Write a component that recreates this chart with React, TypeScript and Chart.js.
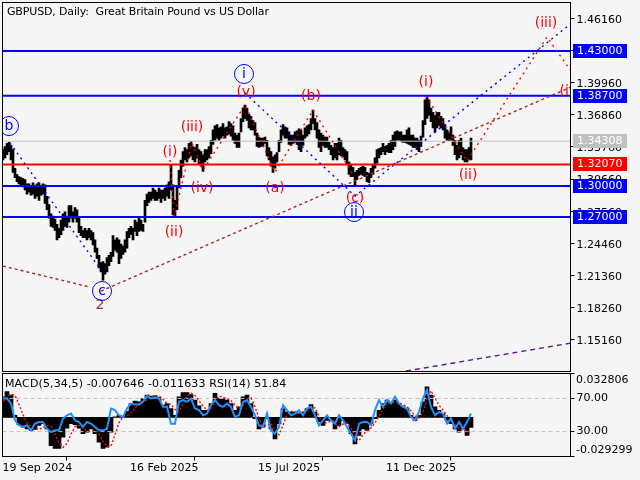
// GBPUSD daily chart with MACD / RSI pane. Two stacked charts sharing one bar axis.
import { useEffect, useRef } from "react";
import { Chart, registerables } from "chart.js";

Chart.register(...registerables);

const FONT = "'DejaVu Sans'";
const BG = "#F5F5F5";

// one entry every 2 daily bars
const highs = [
  1.335,1.338,1.341,1.342,1.339,1.335,1.317,1.311,1.309,1.308,1.307,1.306,1.302,1.302,1.300,1.303,1.300,1.302,1.303,1.300,
  1.302,1.301,1.290,1.282,1.273,1.271,1.268,1.263,1.259,1.267,1.273,1.275,1.271,1.281,1.281,1.275,1.279,1.277,1.269,1.261,
  1.257,1.259,1.257,1.259,1.257,1.255,1.248,1.240,1.233,1.226,1.227,1.225,1.231,1.233,1.236,1.252,1.248,1.250,1.248,1.244,
  1.242,1.248,1.256,1.259,1.261,1.259,1.267,1.265,1.269,1.267,1.263,1.286,1.292,1.294,1.294,1.298,1.296,1.294,1.298,1.296,
  1.296,1.298,1.301,1.304,1.320,1.301,1.286,1.300,1.315,1.325,1.333,1.337,1.335,1.341,1.343,1.338,1.337,1.340,1.335,1.333,
  1.330,1.335,1.335,1.338,1.344,1.354,1.358,1.359,1.356,1.357,1.360,1.356,1.357,1.362,1.360,1.358,1.351,1.349,1.351,1.365,
  1.375,1.378,1.375,1.369,1.367,1.363,1.361,1.351,1.347,1.346,1.346,1.347,1.344,1.337,1.333,1.328,1.330,1.332,1.344,1.354,
  1.359,1.357,1.356,1.352,1.349,1.349,1.352,1.353,1.355,1.354,1.349,1.356,1.358,1.359,1.365,1.373,1.365,1.361,1.354,1.351,
  1.349,1.347,1.347,1.342,1.339,1.337,1.341,1.341,1.346,1.344,1.337,1.335,1.333,1.323,1.320,1.318,1.313,1.315,1.317,1.318,
  1.319,1.318,1.313,1.312,1.317,1.320,1.327,1.335,1.336,1.337,1.341,1.338,1.339,1.341,1.344,1.349,1.352,1.353,1.352,1.352,
  1.349,1.349,1.354,1.356,1.349,1.349,1.346,1.346,1.344,1.348,1.363,1.383,1.387,1.383,1.375,1.371,1.368,1.371,1.371,1.367,
  1.365,1.359,1.354,1.352,1.357,1.349,1.344,1.339,1.344,1.346,1.337,1.335,1.335,1.337,1.346,
];
const lows = [
  1.325,1.327,1.330,1.333,1.325,1.313,1.308,1.304,1.302,1.301,1.299,1.296,1.292,1.294,1.291,1.292,1.288,1.290,1.286,1.291,
  1.292,1.283,1.277,1.269,1.261,1.260,1.257,1.248,1.250,1.253,1.257,1.261,1.260,1.265,1.269,1.265,1.269,1.265,1.255,1.252,
  1.250,1.250,1.248,1.250,1.248,1.243,1.236,1.230,1.221,1.217,1.209,1.215,1.217,1.223,1.227,1.232,1.238,1.236,1.225,1.230,
  1.234,1.236,1.240,1.250,1.253,1.248,1.256,1.252,1.256,1.257,1.256,1.265,1.281,1.284,1.286,1.288,1.286,1.286,1.288,1.284,
  1.288,1.286,1.290,1.288,1.296,1.272,1.271,1.277,1.298,1.308,1.319,1.325,1.323,1.327,1.329,1.325,1.323,1.327,1.321,1.319,
  1.314,1.323,1.325,1.327,1.331,1.340,1.344,1.346,1.344,1.346,1.348,1.346,1.349,1.350,1.348,1.344,1.341,1.337,1.337,1.352,
  1.362,1.365,1.363,1.356,1.354,1.354,1.349,1.338,1.337,1.338,1.338,1.341,1.329,1.325,1.319,1.313,1.317,1.323,1.333,1.342,
  1.349,1.346,1.346,1.340,1.339,1.341,1.342,1.340,1.335,1.333,1.339,1.346,1.348,1.350,1.354,1.360,1.354,1.346,1.337,1.333,
  1.339,1.337,1.337,1.335,1.330,1.325,1.327,1.325,1.330,1.329,1.328,1.325,1.321,1.311,1.309,1.309,1.301,1.306,1.310,1.311,
  1.310,1.309,1.304,1.303,1.308,1.311,1.317,1.322,1.327,1.330,1.333,1.330,1.333,1.332,1.332,1.335,1.338,1.344,1.344,1.343,
  1.342,1.342,1.341,1.340,1.339,1.337,1.337,1.335,1.333,1.338,1.347,1.359,1.365,1.368,1.362,1.356,1.352,1.356,1.358,1.356,
  1.354,1.346,1.344,1.344,1.344,1.339,1.330,1.325,1.327,1.330,1.325,1.323,1.323,1.325,1.325,
];

// one entry every 4 daily bars
const macd = [
  .0154,.0192,.0166,.0015,-.0055,-.0073,-.0086,-.0098,-.0091,-.0060,-.0048,-.0086,-.0212,-.0232,-.0232,-.0149,-.0081,-.0048,
  -.0055,-.0081,-.0123,-.0111,-.0086,-.0123,-.0186,-.0232,-.0224,-.0111,.0003,.0015,.0003,.0045,.0103,.0121,.0116,.0141,.0166,
  .0159,.0161,.0149,.0091,.0103,.0066,.0015,.0154,.0186,.0186,.0171,.0129,.0086,.0053,.0053,.0103,
  .0179,.0141,.0141,.0129,.0103,.0053,.0078,.0154,.0166,.0103,-.0010,-.0086,-.0073,-.0010,-.0086,-.0161,-.0048,.0066,.0040,
  .0040,.0040,.0028,.0040,.0066,.0096,.0040,-.0035,-.0060,-.0023,-.0023,-.0086,-.0060,-.0023,-.0048,-.0123,-.0199,-.0136,
  -.0086,-.0098,-.0048,-.0010,.0053,.0103,.0129,.0103,.0129,.0103,.0078,.0066,.0015,-.0023,.0015,.0116,.0229,
  .0166,.0078,.0053,.0028,-.0023,-.0048,-.0086,-.0111,-.0086,-.0136,-.0076,
];
const signal = [
  .0120,.0150,.0175,.0165,.0095,.0020,-.0040,-.0070,-.0085,-.0090,-.0075,-.0060,-.0070,-.0130,-.0190,-.0225,-.0195,-.0125,
  -.0070,-.0060,-.0080,-.0105,-.0100,-.0095,-.0125,-.0180,-.0220,-.0215,-.0130,-.0040,.0005,.0010,.0030,.0070,.0105,.0120,.0130,
  .0155,.0160,.0160,.0135,.0105,.0095,.0060,.0040,.0100,.0160,.0180,.0165,.0125,.0085,.0055,.0060,
  .0110,.0160,.0150,.0140,.0125,.0090,.0065,.0090,.0135,.0145,.0080,-.0010,-.0065,-.0060,-.0045,-.0100,-.0130,-.0060,.0020,
  .0045,.0045,.0040,.0040,.0050,.0075,.0070,.0010,-.0040,-.0040,-.0030,-.0050,-.0070,-.0050,-.0040,-.0080,-.0150,-.0175,
  -.0130,-.0100,-.0080,-.0040,.0010,.0060,.0105,.0115,.0115,.0110,.0095,.0080,.0050,.0010,-.0005,.0040,.0140,
  .0200,.0145,.0090,.0055,.0015,-.0020,-.0055,-.0085,-.0095,-.0105,-.0116,
];
const rsi = [
  69.9,69.9,63.8,43.6,37.6,35.6,37.6,31.5,39.6,41.6,41.6,33.5,29.5,31.5,31.5,45.7,49.7,51.7,43.6,41.6,35.6,41.6,39.6,35.6,31.5,
  31.5,33.5,57.8,55.8,49.7,47.7,57.8,63.8,62.6,62.6,65.9,73.1,69.9,71.1,69.9,59.8,59.8,39.6,39.6,65.9,67.9,65.9,69.9,57.8,55.8,
  49.7,51.7,61.8,
  67.9,61.8,59.8,63.8,59.8,47.7,49.7,65.9,67.9,59.8,49.7,37.6,35.6,51.7,31.5,27.5,35.6,61.8,55.8,49.7,51.7,55.8,49.7,57.8,59.8,
  49.7,37.6,43.6,49.7,43.6,39.6,49.7,43.6,35.6,27.5,19.4,39.6,41.6,41.6,37.6,55.8,67.9,59.8,67.9,63.8,71.9,63.8,59.8,57.8,47.7,
  43.6,53.7,69.9,80.0,
  59.8,49.7,53.7,51.7,39.6,45.7,33.5,41.6,33.5,41.6,51.84,
];

const priceTicks = [1.4616,1.4306,1.3996,1.3686,1.3376,1.3066,1.2756,1.2446,1.2136,1.1826,1.1516];
const rsiTicks = [100, 70, 30, 0];
const rsiLevels = [70, 30];
const macdMax = 0.032806;
const macdMin = -0.029299;

const dateBars = [-0.5, 127, 255, 383];
const dateLabels = ["19 Sep 2024", "16 Feb 2025", "15 Jul 2025", "11 Dec 2025"];

const blueLevels = [1.43, 1.387, 1.3, 1.27];
const redLevel = 1.3207;
const lastPrice = 1.34308;

// wave lines: bar number, price
const blueBars1 = [7, 98];
const bluePrices1 = [1.3413, 1.2189];
const blueBars2 = [242, 352, 568];
const bluePrices2 = [1.3895, 1.2902, 1.4565];
const redBars1 = [167, 171, 189, 200, 242, 272, 310, 351];
const redPrices1 = [1.3249, 1.2709, 1.3413, 1.3153, 1.3779, 1.3134, 1.3731, 1.3095];
const redBars2 = [423, 464, 544, 568];
const redPrices2 = [1.3866, 1.324, 1.4435, 1.4107];
const brownBars1 = [0, 87];
const brownPrices1 = [1.2227, 1.2025];
const brownBars2 = [98, 568];
const brownPrices2 = [1.1986, 1.3953];
const purpleBars = [403, 568];
const purplePrices = [1.1215, 1.1485];

const waveTexts = ["(i)", "(iii)", "(iv)", "(ii)", "(v)", "(a)", "(b)", "(c)", "(i)", "(ii)", "(iii)", "(i)"];
const waveBars = [167, 189, 199, 171, 243, 272, 308, 352, 423, 465, 543, 564];
const wavePrices = [1.3327, 1.3568, 1.298, 1.2556, 1.3905, 1.298, 1.3867, 1.2883, 1.4002, 1.3105, 1.457, 1.3915];
const circledTexts = ["b", "c", "i", "ii"];
const circledBars = [6, 99, 241, 351];
const circledPrices = [1.3577, 1.1987, 1.4079, 1.2748];

const pts = (bars: number[], prices: number[]) => bars.map((b, i) => ({ x: b, y: prices[i] }));

function waveLine(bars: number[], prices: number[], color: string, dash: number[]) {
  return {
    type: "line" as const,
    data: pts(bars, prices),
    borderColor: color,
    borderWidth: 1.4,
    borderDash: dash,
    pointRadius: 0,
    order: 1,
  };
}

function levelLine(price: number, color: string, width: number) {
  return {
    type: "line" as const,
    data: pts([-0.5, 567.5], [price, price]),
    borderColor: color,
    borderWidth: width,
    pointRadius: 0,
    order: 2,
  };
}

// chart.js reserves half a label above and below the axis; the panes run edge to edge
const fitRightAxis = (s: any) => {
  s.width = 69.5;
  s.paddingTop = 0;
  s.paddingBottom = 0;
};

const frame = {
  id: "frame",
  afterDraw(chart: any) {
    const { ctx, chartArea: a } = chart;
    ctx.save();
    ctx.strokeStyle = "#000";
    ctx.lineWidth = 1;
    ctx.strokeRect(a.left, a.top, a.right - a.left, a.bottom - a.top);
    ctx.restore();
  },
};

const priceOverlay = {
  id: "priceOverlay",
  afterDatasetsDraw(chart: any) {
    const { ctx, chartArea: a, scales } = chart;
    const px = (b: number) => scales.x.getPixelForValue(b);
    const py = (p: number) => scales.y.getPixelForValue(p);
    ctx.save();
    ctx.beginPath();
    ctx.rect(a.left, a.top, a.right - a.left, a.bottom - a.top);
    ctx.clip();
    ctx.textAlign = "center";
    ctx.textBaseline = "middle";
    ctx.font = `14px ${FONT}`;
    ctx.fillStyle = "#FF0000";
    waveTexts.forEach((t, i) => ctx.fillText(t, px(waveBars[i]), py(wavePrices[i])));
    ctx.fillStyle = "#A52A2A";
    ctx.fillText("2", px(97), py(1.1852));
    ctx.strokeStyle = "#0000FF";
    ctx.fillStyle = "#0000FF";
    ctx.lineWidth = 1;
    circledTexts.forEach((t, i) => {
      const x = px(circledBars[i]);
      const y = py(circledPrices[i]);
      ctx.beginPath();
      ctx.arc(x, y, 9.5, 0, Math.PI * 2);
      ctx.stroke();
      ctx.fillText(t, x, y);
    });
    ctx.restore();

    ctx.save();
    ctx.fillStyle = "#000";
    ctx.font = `11px ${FONT}`;
    ctx.textBaseline = "middle";
    ctx.letterSpacing = "-0.15px";
    ctx.fillText("GBPUSD, Daily:  Great Britain Pound vs US Dollar", 7, 12);
    ctx.restore();
  },
  afterDraw(chart: any) {
    const { ctx, scales } = chart;
    const tag = (price: number, color: string) => {
      const y = Math.round(scales.y.getPixelForValue(price));
      ctx.fillStyle = color;
      ctx.fillRect(573, y - 7, 54, 14);
      ctx.fillStyle = "#FFFFFF";
      ctx.fillText(price.toFixed(5), 577, y + 0.5);
    };
    ctx.save();
    ctx.font = `11px ${FONT}`;
    ctx.textAlign = "left";
    ctx.textBaseline = "middle";
    tag(lastPrice, "#C0C0C0");
    tag(redLevel, "#FF0000");
    blueLevels.forEach((l) => tag(l, "#0000FF"));
    ctx.restore();
  },
};

const subOverlay = {
  id: "subOverlay",
  afterDraw(chart: any) {
    const { ctx } = chart;
    ctx.save();
    ctx.fillStyle = "#000";
    ctx.font = `11px ${FONT}`;
    ctx.textBaseline = "middle";
    ctx.fillText(macdMax.toFixed(6), 576, 8);
    ctx.fillText(macdMin.toFixed(6), 576, 78);
    ctx.letterSpacing = "0.13px";
    ctx.fillText("MACD(5,34,5) -0.007646 -0.011633 RSI(14) 51.84", 5, 12);
    ctx.restore();
  },
};

export default function App() {
  const mainRef = useRef<HTMLCanvasElement>(null);
  const subRef = useRef<HTMLCanvasElement>(null);

  useEffect(() => {
    if (!mainRef.current || !subRef.current) return;

    const main = new Chart(mainRef.current, {
      type: "bar",
      data: {
        datasets: [
          {
            data: highs.map((h, i) => ({ x: i * 2, y: [lows[i], h] })),
            backgroundColor: "#000",
            barThickness: 2,
            grouped: false,
            order: 5,
          } as any,
          levelLine(lastPrice, "#C0C0C0", 1),
          levelLine(redLevel, "#FF0000", 2),
          ...blueLevels.map((l) => levelLine(l, "#0000FF", 2)),
          waveLine(blueBars1, bluePrices1, "#0000FF", [2, 4]),
          waveLine(blueBars2, bluePrices2, "#0000FF", [2, 4]),
          waveLine(redBars1, redPrices1, "#FF0000", [2, 4]),
          waveLine(redBars2, redPrices2, "#FF0000", [2, 4]),
          waveLine(brownBars1, brownPrices1, "#A52A2A", [3, 3]),
          waveLine(brownBars2, brownPrices2, "#A52A2A", [3, 3]),
          waveLine(purpleBars, purplePrices, "#5A1E96", [5, 4]),
        ],
      },
      options: {
        responsive: false,
        animation: false,
        devicePixelRatio: 1,
        layout: { padding: { left: 2.5, top: 2.5, bottom: 0.5, right: 0 } },
        plugins: { legend: { display: false }, tooltip: { enabled: false } },
        scales: {
          x: { type: "linear", min: -0.5, max: 567.5, offset: false, display: false },
          y: {
            position: "right",
            min: 1.12107,
            max: 1.47679,
            afterFit: fitRightAxis,
            afterBuildTicks: (s: any) => { s.ticks = priceTicks.map((v) => ({ value: v })); },
            grid: { drawOnChartArea: false, tickLength: 4, tickColor: "#000" },
            border: { color: "#000" },
            ticks: {
              autoSkip: false,
              padding: 2,
              labelOffset: 1.5,
              color: "#000",
              font: { family: FONT, size: 11 },
              callback: (v: any) => Number(v).toFixed(5),
            },
          },
        },
      },
      plugins: [frame, priceOverlay],
    } as any);

    const sub = new Chart(subRef.current, {
      type: "bar",
      data: {
        datasets: [
          {
            data: macd.map((v, i) => ({ x: i * 4, y: v })),
            yAxisID: "yMacd",
            backgroundColor: "#000",
            barThickness: 4,
            grouped: false,
            order: 5,
          } as any,
          ...rsiLevels.map((l) => ({
            type: "line" as const,
            data: pts([-0.5, 567.5], [l, l]),
            yAxisID: "y",
            borderColor: "#C0C0C0",
            borderWidth: 1,
            borderDash: [4, 3],
            pointRadius: 0,
            order: 4,
          })),
          {
            type: "line" as const,
            data: signal.map((v, i) => ({ x: i * 4, y: v })),
            yAxisID: "yMacd",
            borderColor: "#FF0000",
            borderWidth: 1.4,
            borderDash: [2, 2],
            pointRadius: 0,
            order: 2,
          },
          {
            type: "line" as const,
            data: rsi.map((v, i) => ({ x: i * 4, y: v })),
            yAxisID: "y",
            borderColor: "#1E90FF",
            borderWidth: 2,
            pointRadius: 0,
            order: 1,
          },
        ],
      },
      options: {
        responsive: false,
        animation: false,
        devicePixelRatio: 1,
        layout: { padding: { left: 2.5, top: 1.5, bottom: 0, right: 0 } },
        plugins: { legend: { display: false }, tooltip: { enabled: false } },
        scales: {
          x: {
            type: "linear",
            min: -0.5,
            max: 567.5,
            offset: false,
            afterFit: (s: any) => { s.height = 23.5; s.paddingLeft = 0; s.paddingRight = 0; },
            afterBuildTicks: (s: any) => { s.ticks = dateBars.map((v) => ({ value: v })); },
            grid: { drawOnChartArea: false, tickLength: 4, tickColor: "#000" },
            border: { color: "#000" },
            ticks: {
              autoSkip: false,
              maxRotation: 0,
              align: "start",
              padding: 1,
              color: "#000",
              font: { family: FONT, size: 11 },
              callback: (v: any) => dateLabels[dateBars.indexOf(Number(v))],
            },
          },
          y: {
            position: "right",
            min: 0,
            max: 100,
            afterFit: fitRightAxis,
            afterBuildTicks: (s: any) => { s.ticks = rsiTicks.map((v) => ({ value: v })); },
            grid: { drawOnChartArea: false, tickLength: 4, tickColor: "#000" },
            border: { color: "#000" },
            ticks: {
              autoSkip: false,
              padding: 2,
              color: "#000",
              font: { family: FONT, size: 11 },
              callback: (v: any) => (rsiLevels.includes(Number(v)) ? Number(v).toFixed(2) : ""),
            },
          },
          yMacd: { position: "right", display: false, min: macdMin, max: macdMax },
        },
      },
      plugins: [frame, subOverlay],
    } as any);

    return () => {
      main.destroy();
      sub.destroy();
    };
  }, []);

  return (
    <div style={{ position: "fixed", left: 0, top: 0, width: 640, height: 480, background: BG }}>
      <canvas ref={mainRef} width={640} height={372} style={{ position: "absolute", left: 0, top: 0 }} />
      <canvas ref={subRef} width={640} height={108} style={{ position: "absolute", left: 0, top: 372 }} />
    </div>
  );
}
